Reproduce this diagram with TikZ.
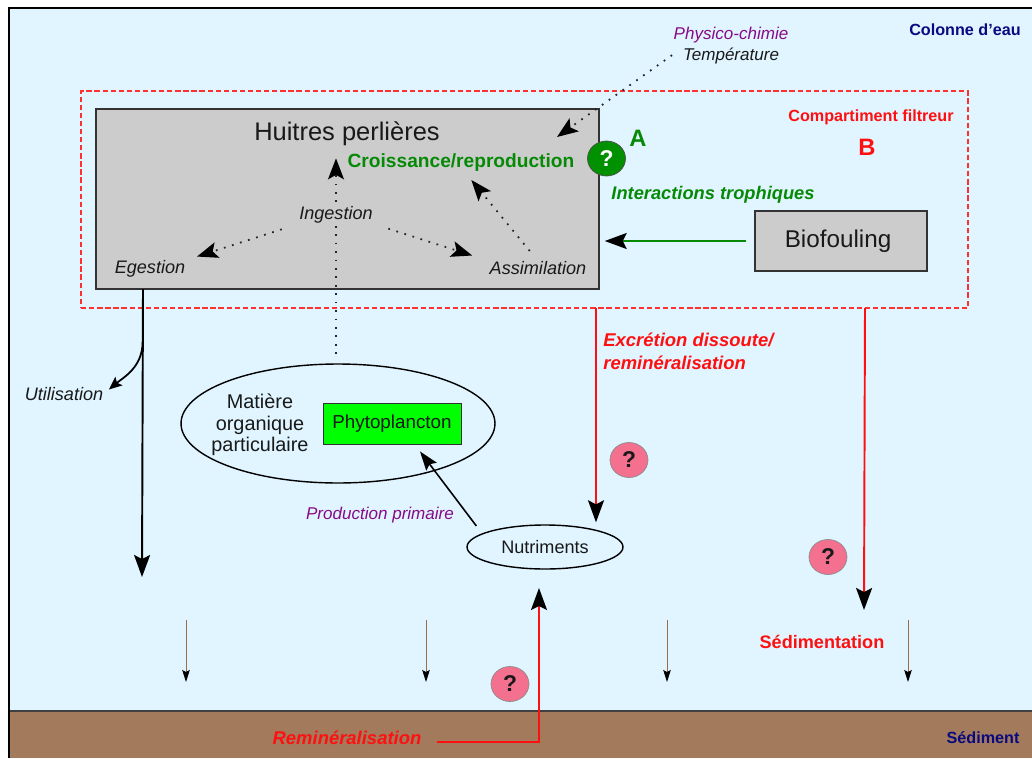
\documentclass[tikz,border=0pt]{standalone}
\usepackage{fontspec}
\setmainfont{Liberation Sans}
\usetikzlibrary{arrows.meta}
\usetikzlibrary{shapes.geometric}
\definecolor{waterColor}{HTML}{E0F5FF}
\definecolor{sedimentColor}{HTML}{A37A5C}
\definecolor{boxColor}{HTML}{CCCCCC}
\definecolor{trophicGreen}{HTML}{068A06}
\definecolor{circleGreen}{HTML}{009000}
\definecolor{physicoPurple}{HTML}{880A88}
\definecolor{zoneBlue}{HTML}{0A0A80}
\definecolor{fluxRed}{HTML}{FF1010}
\definecolor{filterRed}{HTML}{FF3030}
\definecolor{questionPink}{HTML}{F4708F}
\definecolor{sinkBrown}{HTML}{9C6A44}
\newcommand{\labelFont}{\fontsize{10.3}{12.3}\selectfont}
\newcommand{\smallLabelFont}{\fontsize{9.7}{12}\selectfont}
\tikzstyle{pixelGrid} = [x = .02cm, y = -.02cm, every node/.style={inner sep=0, text=black!90}]
\tikzstyle{grayBox} = [draw=black!80, fill=boxColor, line width=.9pt]
\tikzstyle{ellipseBox} = [draw=black, ellipse, line width=.8pt]
\tikzstyle{processLabel} = [font=\labelFont\itshape]
\tikzstyle{plainLabel} = [font=\fontsize{11.3}{12.3}\selectfont, align=center]
\tikzstyle{purpleLabel} = [font=\smallLabelFont\itshape, text=physicoPurple]
\tikzstyle{zoneLabel} = [font=\fontsize{9.2}{11}\selectfont\bfseries, text=zoneBlue]
\tikzstyle{redLabel} = [font=\fontsize{10.3}{13}\selectfont\bfseries, text=fluxRed]
\tikzstyle{greenLabel} = [font=\fontsize{10.6}{13}\selectfont\bfseries, text=trophicGreen]
\tikzstyle{dottedArrow} = [line width=1pt, black!85, dash pattern=on 1pt off 3.8pt, -{Stealth[length=.42cm, width=.32cm, inset=.09cm, color=black]}]
\tikzstyle{dottedLine} = [line width=1pt, black!85, dash pattern=on 1pt off 3.8pt]
\tikzstyle{blackArrow} = [line width=1.1pt, black, -{Stealth[length=.44cm, width=.32cm, inset=.08cm]}]
\tikzstyle{redArrow} = [line width=1.1pt, fluxRed, -{Stealth[length=.44cm, width=.32cm, inset=.08cm, color=black]}]
\tikzstyle{greenArrow} = [line width=1.1pt, trophicGreen, -{Stealth[length=.44cm, width=.32cm, inset=.08cm, color=black]}]
\tikzstyle{sinkArrow} = [line width=.5pt, sinkBrown, -{Stealth[length=.24cm, width=.15cm, inset=.04cm, color=black]}]
\tikzstyle{questionStyle} = [draw=black!45, fill=questionPink, ellipse, minimum width=.76cm, minimum height=.7cm, font=\fontsize{13}{15}\selectfont\bfseries]
\newcommand{\questionMark}[3]{\node [questionStyle] (#1) at (#2,#3) {?};}
\begin{document}
\begin{tikzpicture}[pixelGrid]
  \useasboundingbox (0,0) rectangle (1032,758);
  % water column and sediment
  \fill [waterColor] (9,8) rectangle (1032,711);
  \fill [sedimentColor] (9,711) rectangle (1032,758);
  \draw [black!75, line width=.8pt] (9,711) -- (1032,711);
  \draw [black, line width=1pt] (1032,8) -- (9,8) -- (9,758);
  \node [draw=filterRed, dash pattern=on 3pt off 1.6pt, line width=.9pt, minimum width=17.74cm, minimum height=4.34cm] (compartment) at (524.5,199.5) {};
  \node [grayBox, minimum width=10.06cm, minimum height=3.6cm] (huitresBox) at (347.5,199) {};
  \node [grayBox, minimum width=3.44cm, minimum height=1.2cm, font=\fontsize{13.8}{16}\selectfont] (biofouling) at (841,241) {Biofouling\hbox to 3.4pt{}};
  \node [ellipseBox, minimum width=6.28cm, minimum height=2.38cm] (matiere) at (338,423.5) {};
  \node [draw=black!80, fill=green, line width=.5pt, minimum width=2.76cm, minimum height=.82cm, font=\fontsize{10.7}{13}\selectfont] (phytoplancton) at (392,423.5) {Phytoplancton};
  \node [ellipseBox, minimum width=3.12cm, minimum height=.88cm, font=\labelFont] (nutriments) at (545,547) {Nutriments};

  \node [purpleLabel] (physico) at (731,35) {Physico-chimie};
  \node [processLabel, font=\smallLabelFont\itshape] (temperature) at (731,56) {Température};
  \node [zoneLabel] (colonne) at (965,30) {Colonne d'eau};
  \node [zoneLabel] (sediment) at (983,738) {Sédiment};
  \node [font=\fontsize{9.2}{11}\selectfont\bfseries, text=fluxRed] (filtreur) at (871,117) {Compartiment filtreur};
  \node [font=\fontsize{13.5}{16}\selectfont\bfseries, text=fluxRed] (labelB) at (867,147) {B};
  \node [font=\fontsize{13.5}{16}\selectfont\bfseries, text=trophicGreen] (labelA) at (638,138) {A};
  \node [font=\fontsize{14.5}{17}\selectfont] (huitres) at (347,134) {Huitres perlières};
  \node [greenLabel, font=\fontsize{10.9}{13}\selectfont\bfseries] (croissance) at (461,163) {Croissance/reproduction};
  \node [greenLabel, font=\fontsize{10.4}{13}\selectfont\bfseries\itshape] (interactions) at (713,195) {Interactions trophiques};
  \node [processLabel] (ingestion) at (336,215) {Ingestion};
  \node [processLabel] (egestion) at (150,269) {Egestion};
  \node [processLabel] (assimilation) at (538,268) {Assimilation};
  \node [processLabel] (utilisation) at (64,394) {Utilisation};
  \node [plainLabel] (matiereLabel) at (260,425) {Matière\\organique\\particulaire};
  \node [purpleLabel] (production) at (380,515) {Production primaire};
  \node [redLabel, font=\fontsize{10.5}{13}\selectfont\bfseries\itshape, align=left, anchor=west] (excretion) at (603,351) {Excrétion dissoute/\\reminéralisation};
  \node [redLabel] (sedimentation) at (822,642) {Sédimentation};
  \node [redLabel, font=\fontsize{10.5}{13}\selectfont\bfseries\itshape] (remineralisation) at (347,738) {Reminéralisation};

  \node [questionStyle, draw=black!70, fill=circleGreen, text=white] (questionA) at (606.5,158.5) {?};
  \questionMark{questionExcretion}{629}{460}
  \questionMark{questionSediment}{828}{557}
  \questionMark{questionRemin}{510}{684}

  % free ends of the connectors
  \coordinate (physicoTip) at (557,137);
  \coordinate (egestionStart) at (143,289);
  \coordinate (egestionBranch) at (142.6,342);
  \coordinate (egestionTip) at (142,577);
  \coordinate (excretionStart) at (596,308);
  \coordinate (sedimentStart) at (865,308);
  \coordinate (sedimentTip) at (864,610);
  \coordinate (reminStart) at (437,742);
  \coordinate (reminTip) at (539,588);

  \draw [dottedArrow, shorten <=.26cm] (temperature.north west) -- (physicoTip);
  \draw [dottedArrow, shorten <=.08cm, shorten >=.24cm] (ingestion.north) -- (ingestion.north |- huitres.south);
  \draw [dottedArrow, shorten <=.36cm, shorten >=.24cm] (ingestion.south west) -- (egestion.north east);
  \draw [dottedArrow, shorten <=.32cm, shorten >=.36cm] (ingestion.south east) -- (assimilation.north west);
  \draw [dottedArrow, shorten <=.26cm, shorten >=.2cm] (assimilation.north) -- ([xshift=.08cm]croissance.south);
  \draw [dottedLine, shorten <=.04cm, shorten >=.12cm] (ingestion.south) -- (ingestion.south |- matiere.north);
  \draw [greenArrow, shorten <=.16cm, shorten >=.1cm] (biofouling.west) -- (biofouling.west -| huitresBox.east);
  \draw [blackArrow] (egestionStart) -- (egestionTip);
  \draw [line width=1pt, black, -{Stealth[length=.26cm, width=.22cm, inset=.05cm]}, shorten >=.14cm] (egestionBranch) to [out=270, in=40] (utilisation.east);
  \draw [blackArrow, line width=.9pt, -{Stealth[length=.38cm, width=.26cm, inset=.06cm]}] ([shift={(-13,-5)}]nutriments.north west) -- ([shift={(28,7)}]phytoplancton.south);
  \draw [redArrow, shorten >=.04cm] (excretionStart) -- (excretionStart |- nutriments.north);
  \draw [redArrow] (sedimentStart) -- (sedimentTip);
  \draw [redArrow] (reminStart) -| (reminTip);
  \foreach \sinkX in {186,426,667,908} {
    \coordinate (sinkTop\sinkX) at (\sinkX,620);
    \coordinate (sinkEnd\sinkX) at (\sinkX,682);
    \draw [sinkArrow] (sinkTop\sinkX) -- (sinkEnd\sinkX);
  }
\end{tikzpicture}
\end{document}
